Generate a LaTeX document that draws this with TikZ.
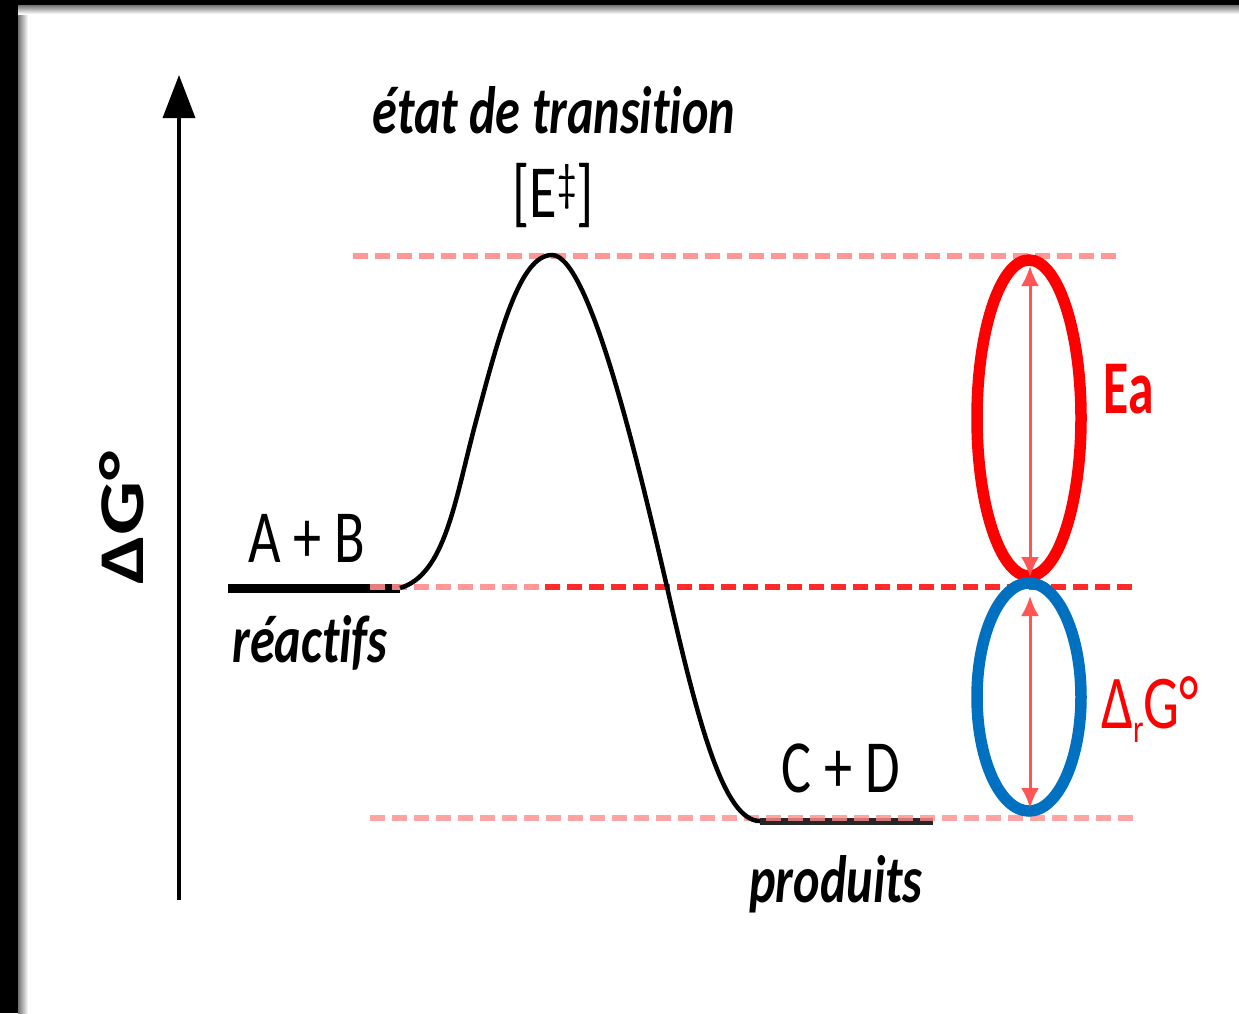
\documentclass[tikz,border=0pt]{standalone}
\usepackage{fontspec}
\setmainfont{Carlito}[Ligatures={NoCommon}]
\usepackage{graphicx}
\usetikzlibrary{arrows.meta}
\definecolor{dashpink}{RGB}{255,140,140}
\definecolor{dashred}{RGB}{255,30,30}
\definecolor{eared}{RGB}{255,0,0}
\definecolor{elblue}{RGB}{0,112,192}
\definecolor{arrred}{RGB}{255,85,85}
\newcommand{\sxb}[1]{\scalebox{0.75}[1]{#1}}
\begin{document}
\begin{tikzpicture}[x=1pt,y=-1pt,
  lvl/.style={dash pattern=on 15pt off 7pt, line width=6pt},
  txt/.style={inner sep=0pt, anchor=base},
  regtext/.style={txt, font=\fontsize{75}{80}\selectfont},
  itext/.style={txt, font=\bfseries\itshape\fontsize{67}{72}\selectfont},
  energyarrow/.style={arrred, line width=3pt,
    {Latex[width=18pt,length=20pt]}-{Latex[width=18pt,length=20pt]}},
  ring/.style={line width=11.5pt}]
\useasboundingbox (0,0) rectangle (1239,1013);
% frame
\fill[white] (0,0) rectangle (1239,1013);
\shade[left color=black!55, right color=white] (18,0) rectangle (28,1013);
\shade[top color=black!55, bottom color=white] (0,5) rectangle (1239,14);
\fill[black] (0,0) rectangle (18,1013);
\fill[black] (0,0) rectangle (1239,5);

% coordinates
\coordinate (ax0) at (179,900);
\coordinate (ax1) at (179,75);
\coordinate (R1) at (228,588);
\coordinate (R2) at (400,588);
\coordinate (TS) at (552,255);
\coordinate (INF1) at (475,425);
\coordinate (INF2) at (670,600);
\coordinate (P1) at (760,821);
\coordinate (P2) at (933,821);
\coordinate (top1) at (353,256);
\coordinate (top2) at (1117,256);
\coordinate (mid1) at (370,587);
\coordinate (midm) at (545,587);
\coordinate (mid2) at (1135,587);
\coordinate (bot1) at (370,818);
\coordinate (bot2) at (1133,818);
\coordinate (ea1) at (1030,266);
\coordinate (ea2) at (1030,577);
\coordinate (dg1) at (1030,596);
\coordinate (dg2) at (1030,808);

% axis
\draw[line width=3.5pt, -{Triangle[width=32pt,length=43pt]}] (ax0) -- (ax1);

% levels
\draw[line width=9pt] (R1) -- (R2);
\draw[line width=7pt, black!85] (P1) -- (P2);

% dashed reference lines
\draw[lvl, dashpink, opacity=0.9] (top1) -- (top2);
\draw[lvl, dashpink, opacity=0.9] (mid1) -- (midm);
\draw[lvl, dashred, opacity=0.95] (midm) -- (mid2);
\draw[lvl, dashpink, opacity=0.8] (bot1) -- (bot2);

% reaction curve
\draw[line width=4.5pt] (R2) .. controls (445,575) and (455,500) .. (INF1)
  .. controls (500,331) and (520,255) .. (TS)
  .. controls (590,255) and (640,470) .. (INF2)
  .. controls (700,730) and (725,821) .. (P1);

% ellipses
\draw[ring, eared] (1029,418) ellipse [x radius=52, y radius=158];
\draw[ring, elblue] (1029,697) ellipse [x radius=52, y radius=114];

% energy arrows
\draw[energyarrow] (ea1) -- (ea2);
\draw[energyarrow] (dg1) -- (dg2);

% texts
\node[itext] (tstext) at (554,133) {\sxb{état de transition}};
\node[regtext] (ts) at (553,217) {\sxb{[E\raisebox{17pt}{\fontsize{52}{52}\selectfont ‡}]}};
\node[regtext] (ab) at (307,562) {\sxb{A + B}};
\node[itext] (reac) at (310,662) {\sxb{réactifs}};
\node[regtext] (cd) at (841,792) {\sxb{C + D}};
\node[itext] (prod) at (836,902) {\sxb{produits}};
\node[txt, rotate=90, font=\bfseries\fontsize{85}{90}\selectfont] (dG) at (143,518) {\scalebox{1}[0.75]{ΔG°}};
\node[txt, eared, font=\bfseries\fontsize{76}{80}\selectfont] (Ea) at (1129,413) {\scalebox{0.68}[1]{Ea}};
\node[txt, anchor=base west, eared, font=\fontsize{76}{80}\selectfont] (drG) at (1101,728) {\sxb{Δ\raisebox{-14pt}{\fontsize{40}{40}\selectfont r}G°}};
\end{tikzpicture}
\end{document}
